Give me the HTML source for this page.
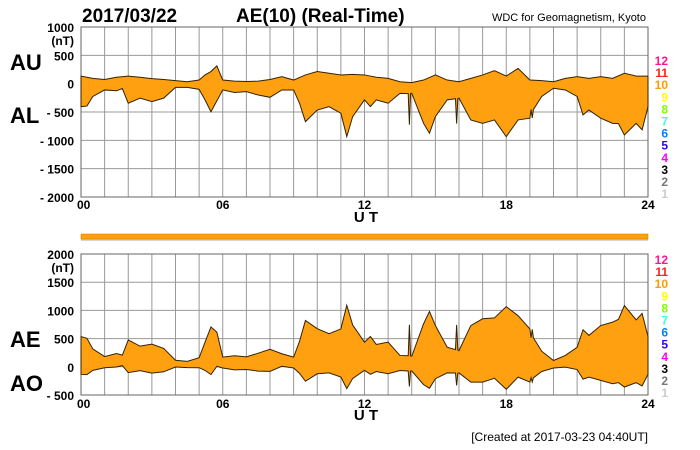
<!DOCTYPE html>
<html><head><meta charset="utf-8"><style>
body{margin:0;background:#fff}
svg{display:block;font-family:"Liberation Sans",sans-serif}
</style></head><body>
<svg id="c" width="700" height="450"></svg>
<script>
const hoursAU=[0,0.5,1,1.5,2,2.5,3,3.5,4,4.5,5,5.25,5.5,5.75,6,6.5,7,7.5,8,8.5,9,9.5,10,10.5,11,11.5,12,12.5,13,13.5,14,14.5,15,15.5,16,16.5,17,17.5,18,18.5,19,19.5,20,20.5,21,21.5,22,22.5,23,23.5,24];
const auValues=[140,100,80,120,140,120,95,80,60,40,70,160,220,320,70,50,45,50,80,130,70,160,220,190,160,170,160,120,100,40,25,70,160,70,40,100,160,235,140,275,70,60,40,100,130,100,130,100,190,140,140];
const hoursAL=[0,0.25,0.5,1,1.5,1.75,2,2.5,3,3.5,4,4.5,5,5.25,5.5,6,6.5,7,7.5,8,8.5,9,9.25,9.5,10,10.5,11,11.25,11.5,12,12.25,12.5,13,13.5,13.85,13.9,13.95,14,14.5,14.75,15,15.5,15.85,15.9,15.95,16,16.5,17,17.5,18,18.5,19,19.05,19.1,19.15,19.5,20,20.5,21,21.25,21.5,22,22.5,22.75,23,23.5,23.75,24];
const alValues=[-400,-390,-220,-105,-120,-80,-340,-250,-310,-250,-60,-60,-95,-280,-490,-105,-150,-135,-195,-235,-105,-105,-340,-665,-460,-400,-515,-930,-575,-280,-400,-280,-340,-165,-170,-720,-170,-165,-695,-870,-575,-280,-260,-700,-260,-250,-635,-695,-635,-930,-635,-605,-450,-600,-450,-220,-75,-105,-220,-545,-460,-605,-695,-700,-900,-695,-810,-400];
const topTicks=["1000","500","0","- 500","- 1000","- 1500","- 2000"];
const botTicks=["2000","1500","1000","500","0","- 500"];
const xTicks=["00","06","12","18","24"];
const legendLabels=["12","11","10","9","8","7","6","5","4","3","2","1"];
const legendColors=["#ff1493","#ff2020","#ff9a00","#ffff00","#80ff00","#40ffe0","#0080ff","#3300ff","#ff00ff","#000","#777","#ccc"];

const NS="http://www.w3.org/2000/svg",svg=document.getElementById('c');
function el(t,a,p){const e=document.createElementNS(NS,t);for(const k in a)e.setAttribute(k,a[k]);(p||svg).appendChild(e);return e;}
function txt(s,x,y,size,anchor,fill,weight){const t=el('text',{x:x,y:y,'font-size':size,'text-anchor':anchor||'start',fill:fill||'#000','font-weight':weight||'bold'});t.textContent=s;return t;}
const X0=81,X1=648;
const xs=h=>X0+(X1-X0)*h/24;
const yTop=v=>84-v*28.3/500;
const yBot=v=>367-v*28.2/500;
function interp(hs,vs,h){for(let i=1;i<hs.length;i++){if(h<=hs[i]){const t=(h-hs[i-1])/(hs[i]-hs[i-1]);return vs[i-1]+t*(vs[i]-vs[i-1]);}}return vs[vs.length-1];}
const allH=[...new Set(hoursAU.concat(hoursAL))].sort((a,b)=>a-b);

function grid(top,bot,nH){
  for(let h=0;h<=24;h++){const l=el('line',{x1:xs(h),x2:xs(h),y1:top,y2:bot,stroke:'#999','stroke-width':1});
    }
  for(let i=0;i<nH;i++){const y=top+(bot-top)*i/(nH-1);const l=el('line',{x1:X0,x2:X1,y1:y,y2:y,stroke:'#999','stroke-width':1});
    }
  const r=el('rect',{x:X0,y:top,width:X1-X0,height:bot-top,fill:'none',stroke:'#666','stroke-width':1});
  
}
// top panel
grid(27,197,7);
let pts=hoursAU.map((h,i)=>xs(h)+','+yTop(auValues[i]));
pts=pts.concat(hoursAL.slice().reverse().map((h,i)=>{const j=hoursAL.length-1-i;return xs(h)+','+yTop(alValues[j]);}));
const a1=el('polygon',{points:pts.join(' '),fill:'#ffa010',stroke:'#332200','stroke-width':1});

// bottom panel
grid(254,395,6);
const aeP=allH.map(h=>{const u=interp(hoursAU,auValues,h),l=interp(hoursAL,alValues,h);return xs(h)+','+yBot(u-l);});
const aoP=allH.slice().reverse().map(h=>{const u=interp(hoursAU,auValues,h),l=interp(hoursAL,alValues,h);return xs(h)+','+yBot((u+l)/2);});
const a2=el('polygon',{points:aeP.concat(aoP).join(' '),fill:'#ffa010',stroke:'#332200','stroke-width':1});

// strip
const st=el('rect',{x:X0,y:234,width:X1-X0,height:5,fill:'#ffa010',stroke:'#c08000','stroke-width':0.5});

const sl=el('line',{x1:X0,x2:X1,y1:240,y2:240,stroke:'#aaa','stroke-width':1});


// ticks
topTicks.forEach((s,i)=>{const t=txt(s,74,27+i*28.33+5,12,'end');});
botTicks.forEach((s,i)=>{const t=txt(s,74,254+i*28.2+5,12,'end');});
let u1=txt('(nT)',74,45,12,'end');
let u2=txt('(nT)',74,272,12,'end');
xTicks.forEach((s,i)=>{const x=xs(i*6);const anc=i==0?'start':'middle';
  const t=txt(s,i==0?x-4:x,209,12,anc);
  const b=txt(s,i==0?x-4:x,408,12,anc);});
let ut1=txt('U T',366,222,15,'middle');
let ut2=txt('U T',366,420,15,'middle');
// side labels
[['AU',10,70,'au-label'],['AL',10,123,'al-label'],['AE',10,347,'ae-label'],['AO',10,391,'ao-label']].forEach(a=>{const t=txt(a[0],a[1],a[2],22);});
// legends
legendLabels.forEach((s,i)=>{const t=txt(s,668,65+i*12.1,12,'end',legendColors[i]);
  const b=txt(s,668,264+i*12.1,12,'end',legendColors[i]);});
// titles
let t1=txt('2017/03/22',82,22,19);
let t2=txt('AE(10) (Real-Time)',236,22,19);
let t3=txt('WDC for Geomagnetism, Kyoto',646,21,11,'end','#000','normal');
let t4=txt('[Created at 2017-03-23 04:40UT]',648,441,12,'end','#000','normal');
</script>
</body></html>
